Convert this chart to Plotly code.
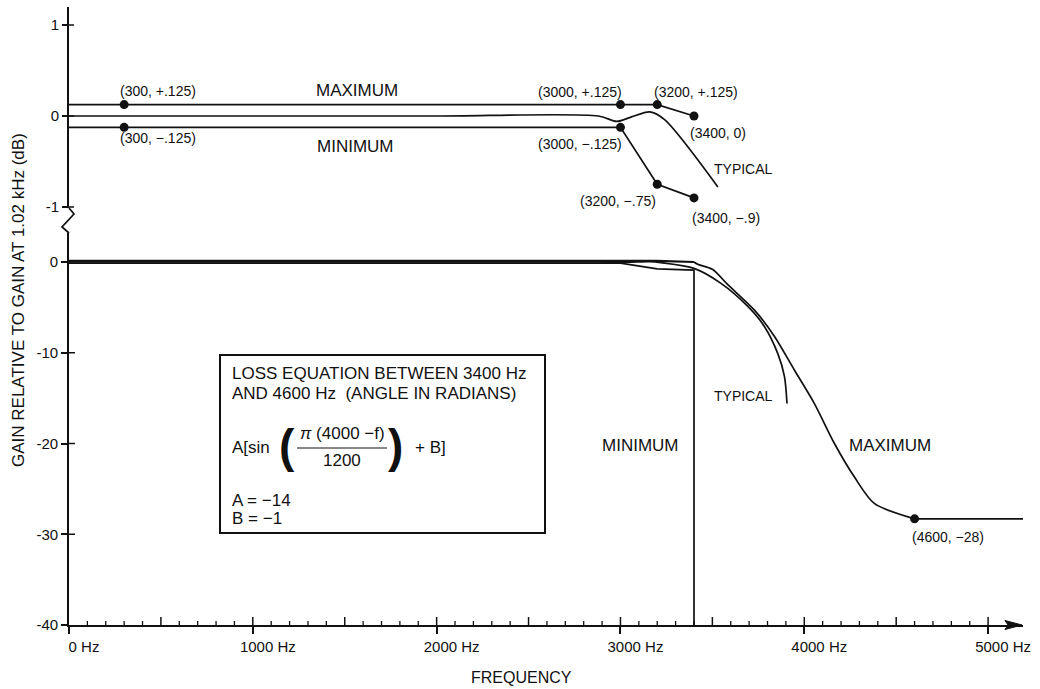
import plotly.graph_objects as go

# ---------------- data ----------------
# upper (expanded) panel, gain in dB vs frequency in Hz
max_f = [0, 300, 3000, 3200, 3400]
max_g = [0.125, 0.125, 0.125, 0.125, 0.0]
min_f = [0, 300, 3000, 3200, 3400]
min_g = [-0.125, -0.125, -0.125, -0.75, -0.9]
typ_top_f = [0, 1000, 2000, 2880, 2980, 3060, 3160, 3240, 3530]
typ_top_g = [0.0, 0.0, 0.0, 0.0, -0.06, -0.01, 0.045, -0.04, -0.78]

pt_f = [300, 3000, 3200, 3400]
max_pt_g = [0.125, 0.125, 0.125, 0.0]
min_pt_g = [-0.125, -0.125, -0.75, -0.9]

# lower (full) panel
max_roll_f = [3400, 3420, 3500, 3584, 3729, 3838, 3946, 4055, 4164, 4273, 4381, 4600]
max_roll_g = [0.0, -0.25, -0.8, -2.5, -5.3, -8.2, -11.9, -15.6, -20.0, -23.7, -26.6, -28.3]
max_tail_f = [4600, 5190]
max_tail_g = [-28.3, -28.3]
typ_roll_f = [0, 1000, 2000, 2880, 2980, 3060, 3160, 3220, 3400, 3547, 3693, 3783, 3856, 3892, 3906]
typ_roll_g = [0.0, 0.0, 0.0, 0.0, -0.06, -0.01, 0.045, -0.07, -0.7, -2.35, -4.9, -7.1, -10.1, -12.6, -15.6]
min_drop_f = [3400, 3400]
min_drop_g = [-0.9, -40]
stop_pt_f = [4600]
stop_pt_g = [-28.3]

x_ticks = [0, 1000, 2000, 3000, 4000, 5000]
x_ticktext = ["0 Hz", "1000 Hz", "2000 Hz", "3000 Hz", "4000 Hz", "5000 Hz"]
x_half_ticks = [500, 1500, 2500, 3500, 4500]
x_minor_ticks = [v for v in range(100, 5100, 100) if v % 500 != 0]
top_ticks = [1, 0, -1]
top_ticktext = ["1", "0", "-1"]
bot_ticks = [0, -10, -20, -30, -40]
bot_ticktext = ["0", "-10", "-20", "-30", "-40"]

# ---------------- geometry ----------------
W_PX, H_PX = 1040, 689
L, R, T, B = 69, 17, 7, 64
PW = W_PX - L - R
PH = H_PX - T - B


def px(x):
    return (x - L) / PW


def py(y):
    return (H_PX - B - y) / PH


BLACK = "#111111"
FONT = "Liberation Sans, Arial, Helvetica, sans-serif"
LW = 1.7

fig = go.Figure()

# ---- top panel traces ----
fig.add_trace(go.Scatter(x=max_f, y=max_g, mode="lines", line=dict(color=BLACK, width=LW),
                         xaxis="x2", yaxis="y2", hoverinfo="skip"))
fig.add_trace(go.Scatter(x=min_f, y=min_g, mode="lines", line=dict(color=BLACK, width=LW),
                         xaxis="x2", yaxis="y2", hoverinfo="skip"))
fig.add_trace(go.Scatter(x=typ_top_f, y=typ_top_g, mode="lines",
                         line=dict(color=BLACK, width=LW, shape="spline", smoothing=0.8),
                         xaxis="x2", yaxis="y2", hoverinfo="skip"))
fig.add_trace(go.Scatter(x=pt_f, y=max_pt_g, mode="markers", marker=dict(color=BLACK, size=9),
                         xaxis="x2", yaxis="y2", hoverinfo="skip"))
fig.add_trace(go.Scatter(x=pt_f, y=min_pt_g, mode="markers", marker=dict(color=BLACK, size=9),
                         xaxis="x2", yaxis="y2", hoverinfo="skip"))

# ---- bottom panel traces ----
fig.add_trace(go.Scatter(x=max_f, y=max_g, mode="lines", line=dict(color=BLACK, width=2.2), hoverinfo="skip"))
fig.add_trace(go.Scatter(x=min_f + min_drop_f, y=min_g + min_drop_g, mode="lines",
                         line=dict(color=BLACK, width=LW), hoverinfo="skip"))
fig.add_trace(go.Scatter(x=max_roll_f, y=max_roll_g, mode="lines",
                         line=dict(color=BLACK, width=LW, shape="spline", smoothing=0.8), hoverinfo="skip"))
fig.add_trace(go.Scatter(x=max_tail_f, y=max_tail_g, mode="lines",
                         line=dict(color=BLACK, width=LW), hoverinfo="skip"))
fig.add_trace(go.Scatter(x=typ_roll_f, y=typ_roll_g, mode="lines",
                         line=dict(color=BLACK, width=LW, shape="spline", smoothing=0.8), hoverinfo="skip"))
fig.add_trace(go.Scatter(x=stop_pt_f, y=stop_pt_g, mode="markers", marker=dict(color=BLACK, size=9),
                         hoverinfo="skip"))

# ---------------- axes ----------------
top_dom = [py(208), 1.0]
bot_dom = [0.0, py(233)]
top_range = [(116 - 208) / 91.0, (116 - T) / 91.0]
bot_range = [-40, (262 - 233) / 9.075]
x_range = [0, PW / 0.18382]

axis_font = dict(family=FONT, size=15, color=BLACK)

fig.update_layout(
    width=W_PX, height=H_PX,
    margin=dict(l=L, r=R, t=T, b=B),
    paper_bgcolor="white", plot_bgcolor="white",
    showlegend=False,
    font=dict(family=FONT, color=BLACK),
    xaxis=dict(domain=[0, 1], range=x_range, anchor="y", showgrid=False, zeroline=False,
               showline=True, linecolor=BLACK, linewidth=1.7,
               tickmode="array", tickvals=x_ticks, ticktext=x_ticktext,
               ticks="outside", ticklen=7, tickwidth=1.5, tickcolor=BLACK,
               ticklabelshift=15, tickfont=axis_font),
    yaxis=dict(domain=bot_dom, range=bot_range, anchor="x", showgrid=False, zeroline=False,
               showline=True, linecolor=BLACK, linewidth=1.7,
               tickmode="array", tickvals=bot_ticks, ticktext=bot_ticktext,
               ticks="outside", ticklen=6, tickwidth=1.5, tickcolor=BLACK, tickfont=axis_font),
    xaxis2=dict(domain=[0, 1], range=x_range, anchor="y2", matches="x", showgrid=False,
                zeroline=False, showline=False, showticklabels=False, ticks=""),
    yaxis2=dict(domain=top_dom, range=top_range, anchor="x2", showgrid=False, zeroline=False,
                showline=True, linecolor=BLACK, linewidth=1.7,
                tickmode="array", tickvals=top_ticks, ticktext=top_ticktext,
                ticks="outside", ticklen=5, tickwidth=1.5, tickcolor=BLACK, tickfont=axis_font),
)

shapes = []
# inner halves of crossing y ticks
for v in [-10, -20, -30]:
    shapes.append(dict(type="line", xref="x", yref="y", xsizemode="pixel", xanchor=0,
                       x0=0, x1=6, y0=v, y1=v, line=dict(color=BLACK, width=1.5)))
for v in top_ticks:
    shapes.append(dict(type="line", xref="x2", yref="y2", xsizemode="pixel", xanchor=0,
                       x0=0, x1=5, y0=v, y1=v, line=dict(color=BLACK, width=1.5)))
# upward x ticks: small every 100 Hz, taller at 500s and 1000s
for v in x_minor_ticks:
    shapes.append(dict(type="line", xref="x", yref="y", ysizemode="pixel", yanchor=-40,
                       x0=v, x1=v, y0=0, y1=4, line=dict(color=BLACK, width=1.3)))
for v in x_half_ticks + x_ticks[1:]:
    shapes.append(dict(type="line", xref="x", yref="y", ysizemode="pixel", yanchor=-40,
                       x0=v, x1=v, y0=0, y1=8, line=dict(color=BLACK, width=1.5)))
# axis break zig-zag
zz = [(69, 208), (74, 214), (62, 227), (69, 233)]
path = "M " + " L ".join(f"{px(a):.5f},{py(b):.5f}" for a, b in zz)
shapes.append(dict(type="path", xref="paper", yref="paper", path=path,
                   line=dict(color=BLACK, width=1.7)))
# arrow head on the frequency axis
ah = [(1005, 620.5), (1022, 625), (1005, 629.5), (1008, 625)]
path = "M " + " L ".join(f"{px(a):.5f},{py(b):.5f}" for a, b in ah) + " Z"
shapes.append(dict(type="path", xref="paper", yref="paper", path=path,
                   fillcolor=BLACK, line=dict(color=BLACK, width=1)))
# equation box
shapes.append(dict(type="rect", xref="paper", yref="paper", x0=px(220), x1=px(545),
                   y0=py(533), y1=py(355), line=dict(color=BLACK, width=2)))
# fraction bar
shapes.append(dict(type="line", xref="paper", yref="paper", x0=px(297), x1=px(387),
                   y0=py(448), y1=py(448), line=dict(color=BLACK, width=1)))
fig.update_layout(shapes=shapes)

ann = []


def label(text, x, y, size=14, anchor="center", **kw):
    ann.append(dict(text=text, x=px(x), y=py(y), xref="paper", yref="paper",
                    xanchor=anchor, yanchor="middle", showarrow=False,
                    font=dict(family=FONT, size=size, color=BLACK), **kw))


label("(300, +.125)", 158, 91)
label("(300, −.125)", 158, 138)
label("(3000, +.125)", 580, 92)
label("(3200, +.125)", 696, 92)
label("(3400, 0)", 718, 133)
label("(3000, −.125)", 580, 144)
label("(3200, −.75)", 618, 201)
label("(3400, −.9)", 726, 218)
label("(4600, −28)", 948, 537)
label("TYPICAL", 743, 169)
label("TYPICAL", 743, 396)
label("MAXIMUM", 357, 90, size=17)
label("MINIMUM", 355, 147, size=17)
label("MINIMUM", 640, 445, size=17)
label("MAXIMUM", 890, 445, size=17)

label("LOSS EQUATION BETWEEN 3400 Hz", 230, 373, size=17, anchor="left")
label("AND 4600 Hz  (ANGLE IN RADIANS)", 230, 393, size=17, anchor="left")
label("A[sin", 230, 447, size=17, anchor="left")
label("<b>(</b>", 287, 446, size=46)
label("<i>π</i> (4000 −f)", 342, 433, size=17)
label("1200", 342, 460, size=17)
label("<b>)</b>", 395, 446, size=46)
label("+ B]", 413, 447, size=17, anchor="left")
label("A = −14", 230, 500, size=17, anchor="left")
label("B = −1", 230, 518, size=17, anchor="left")

label("FREQUENCY", 521, 677, size=16)
label("GAIN RELATIVE TO GAIN AT 1.02 kHz (dB)", 18, 300, size=17, textangle=-90)

fig.update_layout(annotations=ann)

fig.write_html(
    "out.html",
    config={"displayModeBar": False},
    post_script="document.body.style.margin='0px';document.documentElement.style.overflow='hidden';",
)
